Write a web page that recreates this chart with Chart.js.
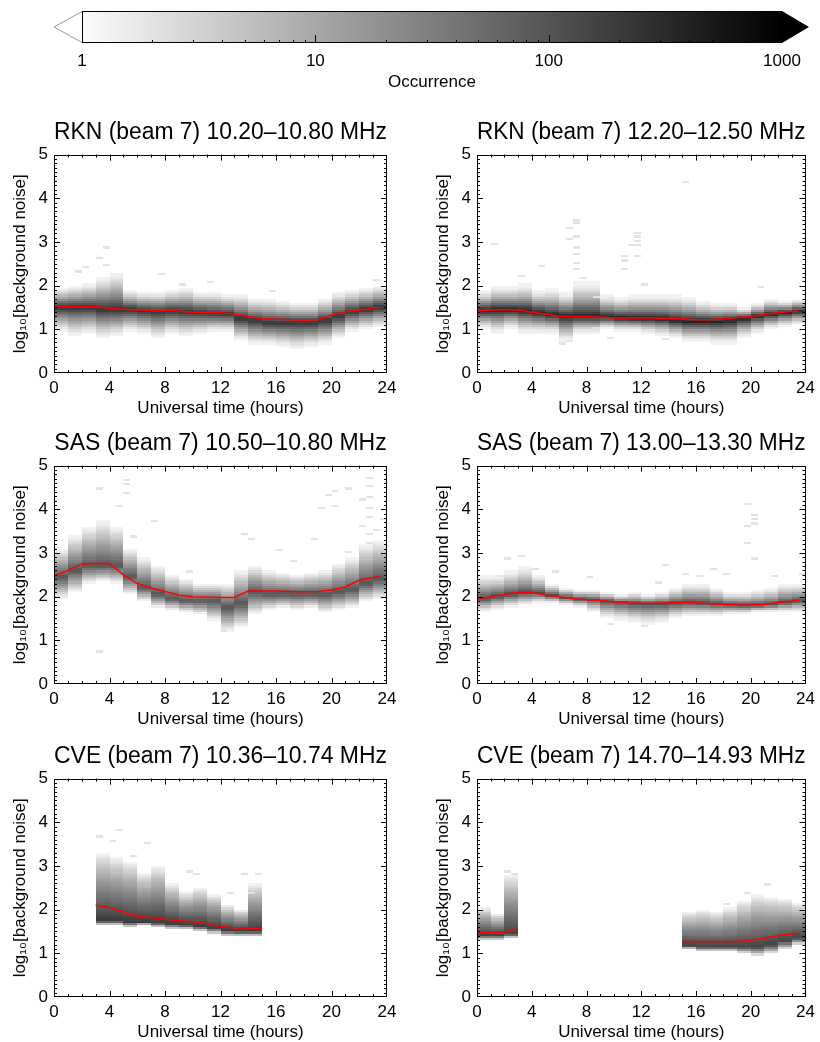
<!DOCTYPE html>
<html>
<head>
<meta charset="utf-8">
<script src="https://cdn.jsdelivr.net/npm/chart.js@4.4.1/dist/chart.umd.min.js"></script>
<style>
  body { margin: 0; background: #fff; }
  #wrap { position: relative; width: 820px; height: 1042px; }
  canvas { position: absolute; }
</style>
</head>
<body>
<div id="wrap">
  <canvas id="cbar" width="820" height="100" style="left:0;top:0"></canvas>
  <canvas id="p0" width="410" height="309" style="left:0;top:110px"></canvas>
  <canvas id="p1" width="410" height="309" style="left:410px;top:110px"></canvas>
  <canvas id="p2" width="410" height="309" style="left:0;top:421px"></canvas>
  <canvas id="p3" width="410" height="309" style="left:410px;top:421px"></canvas>
  <canvas id="p4" width="410" height="309" style="left:0;top:734px"></canvas>
  <canvas id="p5" width="410" height="309" style="left:410px;top:734px"></canvas>
</div>
<script>
var FONT = '"Liberation Sans", Arial, Helvetica, sans-serif';
Chart.defaults.font.family = FONT;
Chart.defaults.color = '#000';

// hour columns of the histograms (start of each 1 h bin)
var hours = [0,1,2,3,4,5,6,7,8,9,10,11,12,13,14,15,16,17,18,19,20,21,22,23];
// hours where the red median curve is sampled
var lineHours = [0,1,2,3,4,5,6,7,8,9,10,11,12,13,14,15,16,17,18,19,20,21,22,23,23.5];
var colorTicks = [1, 10, 100, 1000];
var timeTicks = [0, 4, 8, 12, 16, 20, 24];
var noiseTicks = [0, 1, 2, 3, 4, 5];

var titles = [
  'RKN (beam 7) 10.20\u201310.80 MHz',
  'RKN (beam 7) 12.20\u201312.50 MHz',
  'SAS (beam 7) 10.50\u201310.80 MHz',
  'SAS (beam 7) 13.00\u201313.30 MHz',
  'CVE (beam 7) 10.36\u201310.74 MHz',
  'CVE (beam 7) 14.70\u201314.93 MHz'
];

// red median lines (log10 noise)
var medRkn10 = [1.52,1.52,1.51,1.52,1.48,1.46,1.44,1.43,1.43,1.42,1.39,1.38,1.38,1.35,1.30,1.24,1.23,1.22,1.21,1.22,1.33,1.40,1.44,1.49,1.50];
var medRkn12 = [1.42,1.44,1.44,1.44,1.39,1.35,1.30,1.29,1.29,1.28,1.26,1.26,1.26,1.26,1.25,1.24,1.22,1.22,1.24,1.27,1.30,1.34,1.38,1.41,1.42];
var medSas10 = [2.47,2.60,2.75,2.76,2.76,2.50,2.30,2.20,2.12,2.03,2.00,1.99,1.98,1.98,2.13,2.13,2.13,2.12,2.11,2.12,2.15,2.22,2.38,2.44,2.46];
var medSas13 = [1.95,2.00,2.05,2.10,2.10,2.03,2.00,1.95,1.93,1.91,1.88,1.86,1.85,1.85,1.86,1.87,1.86,1.84,1.82,1.81,1.81,1.82,1.87,1.90,1.92];
var medCve10 = [null,null,null,2.10,2.05,1.95,1.85,1.82,1.78,1.75,1.72,1.68,1.62,1.58,1.58,1.57,null,null,null,null,null,null,null,null,null];
var medCve14 = [1.47,1.47,1.49,1.56,null,null,null,null,null,null,null,null,null,null,null,1.27,1.27,1.27,1.27,1.27,1.30,1.35,1.41,1.45,1.46];

// occurrence histograms: lowest, densest and highest log10 noise per hour column
var loRkn10 = [0.95,0.85,0.90,0.80,0.85,0.95,0.90,0.80,0.90,0.85,0.90,0.95,0.95,0.75,0.65,0.65,0.60,0.55,0.60,0.65,0.80,0.95,1.00,1.05];
var coreRkn10 = [1.50,1.50,1.50,1.45,1.45,1.45,1.42,1.40,1.42,1.40,1.38,1.36,1.35,1.25,1.20,1.15,1.15,1.15,1.15,1.20,1.30,1.40,1.45,1.50];
var hiRkn10 = [1.95,2.00,2.05,2.20,2.30,1.90,1.85,1.85,1.90,1.95,1.85,1.85,1.80,1.80,1.70,1.70,1.65,1.60,1.60,1.70,1.85,1.90,1.95,2.00];

var loRkn12 = [1.00,0.90,1.00,0.90,0.90,0.90,0.70,0.90,0.90,1.00,0.95,0.95,0.90,0.85,0.80,0.70,0.70,0.65,0.65,0.80,0.90,1.00,1.05,1.10];
var coreRkn12 = [1.42,1.44,1.44,1.42,1.38,1.33,1.30,1.29,1.29,1.28,1.26,1.25,1.25,1.24,1.20,1.18,1.18,1.18,1.20,1.25,1.30,1.34,1.38,1.41];
var hiRkn12 = [1.90,2.00,2.00,2.05,1.90,1.95,1.85,2.10,2.10,1.80,1.75,1.80,1.80,1.80,1.80,1.75,1.65,1.60,1.60,1.50,1.60,1.70,1.65,1.70];

var loSas10 = [1.95,2.10,2.30,2.35,2.30,2.05,1.90,1.75,1.70,1.65,1.60,1.45,1.20,1.30,1.60,1.70,1.75,1.70,1.75,1.65,1.70,1.75,1.90,1.95];
var coreSas10 = [2.45,2.60,2.70,2.70,2.70,2.45,2.20,2.05,1.95,1.90,1.90,1.90,1.75,1.85,2.10,2.05,2.05,2.05,2.05,2.05,2.10,2.15,2.30,2.40];
var hiSas10 = [3.10,3.40,3.60,3.75,3.60,3.10,2.90,2.70,2.50,2.40,2.30,2.30,2.30,2.60,2.70,2.60,2.55,2.50,2.55,2.60,2.75,2.90,3.20,3.30];

var loSas13 = [1.65,1.70,1.75,1.80,1.85,1.85,1.80,1.75,1.65,1.50,1.45,1.40,1.35,1.40,1.50,1.55,1.55,1.55,1.60,1.60,1.65,1.65,1.65,1.65];
var coreSas13 = [1.95,2.00,2.05,2.08,2.08,2.02,1.98,1.95,1.93,1.90,1.87,1.85,1.84,1.84,1.85,1.86,1.85,1.83,1.81,1.80,1.80,1.82,1.86,1.90];
var hiSas13 = [2.50,2.50,2.60,2.70,2.50,2.30,2.20,2.15,2.15,2.10,2.05,2.10,2.05,2.10,2.20,2.30,2.30,2.20,2.10,2.10,2.15,2.20,2.30,2.30];

var loCve10 = [null,null,null,1.65,1.65,1.60,1.65,1.60,1.55,1.55,1.50,1.45,1.40,1.40,1.40,null,null,null,null,null,null,null,null,null];
var coreCve10 = [null,null,null,1.75,1.75,1.72,1.72,1.70,1.68,1.65,1.62,1.58,1.52,1.50,1.50,null,null,null,null,null,null,null,null,null];
var hiCve10 = [null,null,null,3.30,3.20,3.10,2.85,3.00,2.60,2.40,2.50,2.35,2.10,2.00,2.60,null,null,null,null,null,null,null,null,null];

var loCve14 = [1.30,1.30,1.35,null,null,null,null,null,null,null,null,null,null,null,null,1.10,1.05,1.05,1.05,1.00,0.95,1.00,1.10,1.20];
var coreCve14 = [1.42,1.42,1.45,null,null,null,null,null,null,null,null,null,null,null,null,1.18,1.15,1.15,1.15,1.15,1.15,1.20,1.28,1.35];
var hiCve14 = [2.05,1.90,2.80,null,null,null,null,null,null,null,null,null,null,null,null,1.95,2.00,1.95,2.05,2.20,2.35,2.30,2.25,2.15];

// peak log10 occurrence of each panel and how fast it falls off
var peaks = [2.4, 2.6, 2.0, 2.1, 2.3, 2.2];
var shapes = [1.2, 1.4, 1.0, 1.3, 0.8, 0.8];

// isolated single counts [hour, log10 noise]
var outRkn10 = [[3.5,2.85],[3,2.6],[2,2.4],[1.5,2.3],[3.5,2.45],[7.5,2.25],[9,2.0],[11,2.05],[15.5,1.85],[23,2.1]];
var outRkn12 = [[1,2.93],[3,2.2],[4.5,2.42],[6.5,3.3],[6.5,3.05],[7,3.48],[7,3.42],[7,3.1],[7,2.85],[7,2.7],[7,2.5],[7,2.35],[7.5,2.15],[8.5,1.72],[9.5,1.7],[10.5,2.35],[10.5,2.65],[10.5,2.55],[11,2.9],[11.5,3.18],[11.5,3.1],[11.5,3.0],[11.5,2.9],[11.5,2.65],[15,4.35],[8.5,1.0],[6,0.65],[6.5,0.7],[9.5,0.78],[13.5,0.75],[12,2.0],[20.5,1.95]];
var outSas10 = [[3,4.45],[5,4.65],[5,4.55],[5,4.35],[4.5,4.05],[7,3.7],[5.5,3.35],[13.5,3.4],[14,3.3],[17,2.8],[16,3.05],[18.5,3.3],[19,4.0],[19.5,4.3],[20,4.4],[20,4.05],[21,4.45],[22,4.2],[22.5,4.7],[22.5,4.5],[22.5,4.25],[22.5,4.0],[22.5,3.8],[22,3.6],[22.5,3.4],[22.5,3.2],[23.5,3.75],[23,3.5],[3,0.72],[21,3.0],[12,1.2],[9.5,2.55]];
var outSas13 = [[3,2.9],[2,2.85],[4,2.6],[1.5,2.45],[5.5,2.55],[8,2.42],[13,2.3],[15,2.5],[16,2.45],[17,2.6],[18,2.5],[19.5,3.6],[19.5,4.1],[19.5,3.2],[20,3.85],[20,3.75],[20,3.65],[20,2.85],[21.5,2.45],[23.5,2.5],[13.5,2.7],[9.5,1.35],[12,1.3]];
var outCve10 = [[3,3.65],[4,3.55],[4.5,3.8],[6.5,3.5],[5.5,3.2],[9.5,2.85],[10,2.8],[13.5,2.8],[14.5,2.8],[14,2.35],[7.5,2.85],[12.5,2.35]];
var outCve14 = [[21,2.55],[19.5,2.35],[20.5,2.2],[2,2.85],[2.5,2.8],[18,2.1]];

var panels = [
  { med: medRkn10, lo: loRkn10, core: coreRkn10, hi: hiRkn10, out: outRkn10 },
  { med: medRkn12, lo: loRkn12, core: coreRkn12, hi: hiRkn12, out: outRkn12 },
  { med: medSas10, lo: loSas10, core: coreSas10, hi: hiSas10, out: outSas10 },
  { med: medSas13, lo: loSas13, core: coreSas13, hi: hiSas13, out: outSas13 },
  { med: medCve10, lo: loCve10, core: coreCve10, hi: hiCve10, out: outCve10 },
  { med: medCve14, lo: loCve14, core: coreCve14, hi: hiCve14, out: outCve14 }
];

// log10(occurrence) -> grey, same map as the colour bar
function grey(lc) {
  var g = Math.round(252 * (1 - Math.max(0, Math.min(lc, 3)) / 3));
  return 'rgb(' + g + ',' + g + ',' + g + ')';
}

function fillCell(ctx, xs, ys, x0, x1, y0, y1, lc) {
  var px0 = Math.round(xs.getPixelForValue(x0)), px1 = Math.round(xs.getPixelForValue(x1));
  var py0 = Math.round(ys.getPixelForValue(y1)), py1 = Math.round(ys.getPixelForValue(y0));
  ctx.fillStyle = grey(lc);
  ctx.fillRect(px0, py0, px1 - px0, py1 - py0);
}

function makeHist(p, peak, shape) {
  return {
    id: 'hist',
    beforeDatasetsDraw: function (chart) {
      var ctx = chart.ctx, a = chart.chartArea;
      var xs = chart.scales.x, ys = chart.scales.y;
      ctx.save();
      ctx.beginPath();
      ctx.rect(a.left, a.top, a.right - a.left, a.bottom - a.top);
      ctx.clip();
      hours.forEach(function (h, i) {
        if (p.lo[i] == null) return;
        for (var k = 0; k < 100; k++) {
          var y0 = k * 0.05, yc = y0 + 0.025, d;
          if (yc >= p.core[i]) d = (yc - p.core[i]) / (p.hi[i] - p.core[i]);
          else d = (p.core[i] - yc) / (p.core[i] - p.lo[i]);
          if (d >= 1) continue;
          var lc = peak * Math.pow(1 - d, shape);
          if (lc < 0.12) lc = 0.12;
          fillCell(ctx, xs, ys, h, h + 1, y0, y0 + 0.05, lc);
        }
      });
      p.out.forEach(function (o) {
        fillCell(ctx, xs, ys, o[0], o[0] + 0.5, o[1], o[1] + 0.05, 0.3);
      });
      ctx.restore();
    }
  };
}

// IDL style frame with inward ticks on all four sides
var framePlugin = {
  id: 'frame',
  afterDatasetsDraw: function (chart) {
    var ctx = chart.ctx, a = chart.chartArea;
    var xs = chart.scales.x, ys = chart.scales.y;
    ctx.save();
    ctx.strokeStyle = '#000';
    ctx.lineWidth = 1;
    ctx.strokeRect(Math.round(a.left) + 0.5, Math.round(a.top) + 0.5,
      Math.round(a.right - a.left) - 1, Math.round(a.bottom - a.top) - 1);
    ctx.beginPath();
    for (var h = 1; h < 24; h++) {
      var len = h % 4 === 0 ? 6 : 3;
      var x = Math.round(xs.getPixelForValue(h)) + 0.5;
      ctx.moveTo(x, a.bottom); ctx.lineTo(x, a.bottom - len);
      ctx.moveTo(x, a.top); ctx.lineTo(x, a.top + len);
    }
    for (var k = 1; k < 50; k++) {
      var l2 = k % 10 === 0 ? 6 : 3;
      var y = Math.round(ys.getPixelForValue(k / 10)) + 0.5;
      ctx.moveTo(a.left, y); ctx.lineTo(a.left + l2, y);
      ctx.moveTo(a.right, y); ctx.lineTo(a.right - l2, y);
    }
    ctx.stroke();
    ctx.restore();
  }
};

panels.forEach(function (p, i) {
  var right = i % 2 === 1;
  new Chart(document.getElementById('p' + i), {
    type: 'line',
    data: {
      datasets: [{
        data: lineHours.map(function (h, j) { return { x: h, y: p.med[j] }; }),
        borderColor: '#ff0000',
        borderWidth: 1.5,
        pointRadius: 0,
        fill: false,
        spanGaps: false,
        tension: 0
      }]
    },
    options: {
      responsive: false,
      animation: false,
      devicePixelRatio: 1,
      layout: { padding: { left: right ? 23 : 10, right: right ? 11 : 23, top: 0, bottom: 0 } },
      plugins: {
        legend: { display: false },
        tooltip: { enabled: false },
        title: {
          display: true,
          text: titles[i],
          fullSize: false,
          color: '#000',
          font: { size: 23, weight: 'normal' },
          padding: { top: 9, bottom: 8 }
        }
      },
      scales: {
        x: {
          type: 'linear',
          min: 0,
          max: 24,
          grid: { display: false, drawTicks: false },
          border: { display: false },
          afterBuildTicks: function (s) { s.ticks = timeTicks.map(function (v) { return { value: v }; }); },
          ticks: { padding: 5, font: { size: 17 }, maxRotation: 0, autoSkip: false },
          title: { display: true, text: 'Universal time (hours)', font: { size: 17 }, padding: 0 },
          afterFit: function (s) { s.height = 46; }
        },
        y: {
          type: 'linear',
          min: 0,
          max: 5,
          grid: { display: false, drawTicks: false },
          border: { display: false },
          afterBuildTicks: function (s) { s.ticks = noiseTicks.map(function (v) { return { value: v }; }); },
          ticks: { padding: 6, font: { size: 17 }, autoSkip: false },
          title: { display: true, text: 'log\u2081\u2080[background noise]', font: { size: 17 }, padding: 0 },
          afterFit: function (s) { s.width = 44; }
        }
      }
    },
    plugins: [makeHist(p, peaks[i], shapes[i]), framePlugin]
  });
});

// colour bar with triangular over/under ends
var cbarPlugin = {
  id: 'cbar',
  beforeDatasetsDraw: function (chart) {
    var ctx = chart.ctx, a = chart.chartArea, xs = chart.scales.x;
    var x0 = Math.round(xs.getPixelForValue(colorTicks[0]));
    var x1 = Math.round(xs.getPixelForValue(colorTicks[colorTicks.length - 1]));
    var top = Math.round(a.top), bot = Math.round(a.bottom), mid = (top + bot) / 2;
    ctx.save();
    var grad = ctx.createLinearGradient(x0, 0, x1, 0);
    grad.addColorStop(0, grey(0));
    grad.addColorStop(1, grey(3));
    ctx.fillStyle = grad;
    ctx.fillRect(x0, top, x1 - x0, bot - top);
    // under end
    ctx.beginPath();
    ctx.moveTo(x0, top + 0.5); ctx.lineTo(x0 - 28, mid); ctx.lineTo(x0, bot - 0.5);
    ctx.fillStyle = '#fff'; ctx.fill();
    ctx.strokeStyle = '#999'; ctx.lineWidth = 1; ctx.stroke();
    // over end
    ctx.beginPath();
    ctx.moveTo(x1, top); ctx.lineTo(x1 + 27, mid); ctx.lineTo(x1, bot);
    ctx.closePath();
    ctx.fillStyle = '#000'; ctx.fill();
    ctx.strokeStyle = '#000';
    ctx.strokeRect(x0 + 0.5, top + 0.5, x1 - x0 - 1, bot - top - 1);
    // ticks rising from the lower edge
    ctx.beginPath();
    for (var d = 1; d < 1000; d *= 10) {
      for (var m = 1; m < 10; m++) {
        var v = d * m;
        if (v <= 1 || v >= 1000) continue;
        var x = Math.round(xs.getPixelForValue(v)) + 0.5;
        var len = m === 1 ? 8 : 3;
        ctx.moveTo(x, bot); ctx.lineTo(x, bot - len);
      }
    }
    ctx.stroke();
    ctx.restore();
  }
};

new Chart(document.getElementById('cbar'), {
  type: 'scatter',
  data: { datasets: [] },
  options: {
    responsive: false,
    animation: false,
    devicePixelRatio: 1,
    layout: { padding: { left: 82, right: 38, top: 11, bottom: 0 } },
    plugins: { legend: { display: false }, tooltip: { enabled: false } },
    scales: {
      x: {
        type: 'logarithmic',
        min: 1,
        max: 1000,
        grid: { display: false, drawTicks: false },
        border: { display: false },
        afterBuildTicks: function (s) { s.ticks = colorTicks.map(function (v) { return { value: v }; }); },
        ticks: { padding: 8, font: { size: 17 }, autoSkip: false, maxRotation: 0,
          callback: function (v) { return String(v); } },
        title: { display: true, text: 'Occurrence', font: { size: 17 }, padding: { top: 0, bottom: 7 } },
        afterFit: function (s) { s.height = 57; }
      },
      y: { display: false, min: 0, max: 1 }
    }
  },
  plugins: [cbarPlugin]
});
</script>
</body>
</html>
